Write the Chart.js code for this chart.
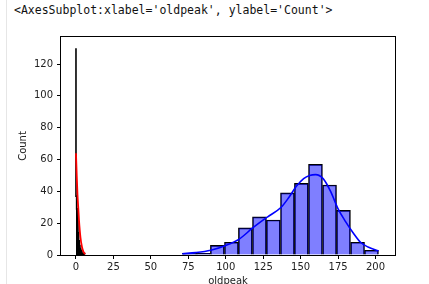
<!DOCTYPE html>
<html lang="en">
<head>
  <meta charset="UTF-8" />
  <title>oldpeak / thalach histograms</title>
  <script src="https://cdn.jsdelivr.net/npm/chart.js"></script>
  <style>
    html, body {
      margin: 0;
      padding: 0;
      width: 429px;
      height: 284px;
      overflow: hidden;
      background: #fff;
    }
    .cell-edge {
      position: absolute;
      left: 6px;
      top: 0;
      width: 1px;
      height: 284px;
      background: #e6e6e6;
    }
    .repr {
      position: absolute;
      left: 14px;
      top: 3px;
      font-family: "DejaVu Sans Mono", monospace;
      font-size: 11.5px;
      line-height: 14px;
      color: #111;
      white-space: pre;
    }
    canvas {
      position: absolute;
      left: 0;
      top: 0;
    }
  </style>
</head>
<body>
  <div class="cell-edge"></div>
  <div class="repr">&lt;AxesSubplot:xlabel='oldpeak', ylabel='Count'&gt;</div>
  <canvas id="histChart" width="429" height="290"></canvas>

  <script>
    // thalach histogram (blue): bin centres and counts
    const thalachBins = [75.7, 85.0, 94.4, 103.8, 113.1, 122.5, 131.8, 141.2, 150.5, 159.9, 169.3, 178.6, 188.0, 197.3];
    const thalachCounts = [1, 1, 6, 8, 17, 24, 22, 39, 45, 57, 44, 28, 8, 3];

    // thalach kde (blue line)
    const thalachKdeX = [71, 80, 90, 100, 109, 118, 128, 137, 142, 147, 152, 156, 160, 165, 170, 175, 180, 185, 190, 195, 202];
    const thalachKdeY = [0.8, 1.5, 3, 6, 10, 17, 24, 30, 36, 43, 48, 50, 50.5, 48, 40, 29, 21, 14, 8, 5, 2.5];

    // oldpeak histogram (bins so narrow they render as a solid black block)
    const oldpeakEdges = [0, 0.44, 0.89, 1.33, 1.77, 2.21, 2.66, 3.1, 3.54, 3.99, 4.43, 4.87, 5.31, 5.76, 6.2];
    const oldpeakCounts = [130, 37, 29, 22, 14, 9, 6, 4, 3, 2, 1, 0, 1, 1];

    // oldpeak kde (red line)
    const oldpeakKdeX = [0, 0.5, 1, 1.5, 2, 3, 4, 5, 6.2];
    const oldpeakKdeY = [64, 50, 38, 30, 22, 11, 5, 2, 0.5];

    const xTicks = [0, 25, 50, 75, 100, 125, 150, 175, 200];
    const yTicks = [0, 20, 40, 60, 80, 100, 120];

    const toPoints = (xs, ys) => xs.map((x, i) => ({ x: x, y: ys[i] }));
    // step outline: each count held from its left edge to the next edge
    const oldpeakSteps = toPoints(oldpeakEdges, oldpeakCounts.concat(oldpeakCounts[oldpeakCounts.length - 1]));

    const frame = {
      id: 'frame',
      afterDatasetsDraw(chart) {
        const { ctx, chartArea: a } = chart;
        ctx.save();
        ctx.strokeStyle = '#000';
        ctx.lineWidth = 1;
        ctx.strokeRect(Math.round(a.left) - 0.5, Math.round(a.top) - 0.5,
                       Math.round(a.right - a.left) + 1, Math.round(a.bottom - a.top) + 1);
        ctx.restore();
      }
    };

    const tickFont = { family: 'DejaVu Sans', size: 10 };

    new Chart(document.getElementById('histChart'), {
      type: 'bar',
      data: {
        datasets: [
          {
            label: 'thalach',
            data: toPoints(thalachBins, thalachCounts),
            backgroundColor: 'rgba(0, 0, 255, 0.5)',
            borderColor: '#000',
            borderWidth: 1,
            barPercentage: 1,
            categoryPercentage: 1,
            order: 2
          },
          {
            type: 'line',
            label: 'oldpeak',
            data: oldpeakSteps,
            stepped: 'after',
            fill: 'origin',
            backgroundColor: '#000',
            borderColor: '#000',
            borderWidth: 1.6,
            pointRadius: 0,
            order: 2
          },
          {
            type: 'line',
            label: 'thalach kde',
            data: toPoints(thalachKdeX, thalachKdeY),
            borderColor: '#0000ff',
            borderWidth: 1.6,
            pointRadius: 0,
            cubicInterpolationMode: 'monotone',
            order: 1
          },
          {
            type: 'line',
            label: 'oldpeak kde',
            data: toPoints(oldpeakKdeX, oldpeakKdeY),
            borderColor: '#ff0000',
            borderWidth: 1.8,
            pointRadius: 0,
            cubicInterpolationMode: 'monotone',
            order: 1
          }
        ]
      },
      options: {
        responsive: false,
        animation: false,
        layout: { padding: { left: 0, top: 37, right: 34, bottom: 3 } },
        plugins: {
          legend: { display: false },
          tooltip: { enabled: false }
        },
        scales: {
          x: {
            type: 'linear',
            offset: false,
            min: -10,
            max: 213,
            afterBuildTicks: s => { s.ticks = xTicks.map(v => ({ value: v })); },
            afterFit: s => { s.height = 32; },
            border: { display: false },
            grid: { offset: false, drawOnChartArea: false, tickLength: 4, color: '#000' },
            ticks: { color: '#222', font: tickFont, padding: 2, maxRotation: 0 },
            title: {
              display: true,
              text: 'oldpeak',
              color: '#222',
              font: tickFont,
              padding: { top: 0, bottom: 0 }
            }
          },
          y: {
            min: 0,
            max: 137,
            afterBuildTicks: s => { s.ticks = yTicks.map(v => ({ value: v })); },
            afterFit: s => { s.width = 61; },
            border: { display: false },
            grid: { drawOnChartArea: false, tickLength: 4, color: '#000' },
            ticks: { color: '#222', font: tickFont, padding: 4 },
            title: {
              display: true,
              text: 'Count',
              color: '#222',
              font: tickFont,
              padding: { top: 17, bottom: 0 }
            }
          }
        }
      },
      plugins: [frame]
    });
  </script>
</body>
</html>
